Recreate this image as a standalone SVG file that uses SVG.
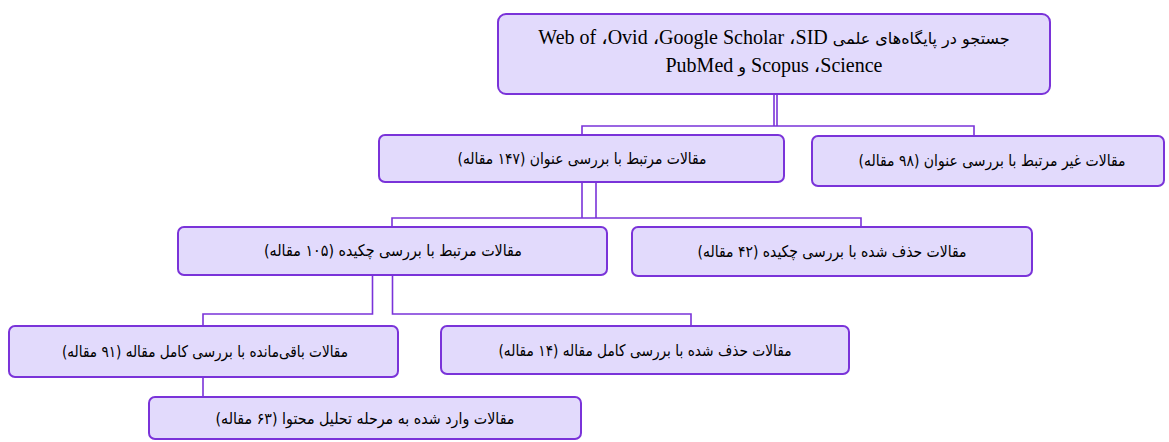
<svg xmlns="http://www.w3.org/2000/svg" width="1169" height="442" viewBox="0 0 1169 442">
<style>
.box{fill:#e2dafc;stroke:#7a33d9;stroke-width:2}
.fa{font-family:"DejaVu Sans","Noto Sans",sans-serif;font-size:16px;fill:#000;direction:rtl;text-anchor:middle}
.lat{font-family:"Liberation Serif","DejaVu Sans",serif;font-size:20px;fill:#000;direction:rtl;text-anchor:middle}
.fs{font-family:"DejaVu Sans","Noto Sans",sans-serif;font-size:16px}
.con{fill:none;stroke:#7a33d9;stroke-width:1.6}
</style>
<rect width="1169" height="442" fill="#ffffff"/>
<g id="connectors">
<path class="con" d="M774 94V126M777 94V126M582 135V126H974V136"/>
<path class="con" d="M582 182V218H596V182M392 227V218H861V227"/>
<path class="con" d="M372.5 276V314H203V326M392.5 276V314H691V326"/>
<path class="con" d="M203 377V397"/>
</g>
<g id="search">
<rect class="box" x="498" y="14" width="552" height="80" rx="8"/>
<text class="lat" x="774" y="44"><tspan class="fs">جستجو در پایگاه‌های علمی</tspan> SID،&#x200F; Google Scholar،&#x200F; Ovid،&#x200F;  Web of</text>
<text class="lat" x="774" y="72">Science،&#x200F; Scopus <tspan class="fs">و</tspan>  PubMed</text>
</g>
<g id="title-relevant">
<rect class="box" x="379" y="135" width="405" height="47" rx="6"/>
<text class="fa" x="582" y="164" textLength="249" lengthAdjust="spacingAndGlyphs">مقالات مرتبط با بررسی عنوان (۱۴۷ مقاله)</text>
</g>
<g id="title-irrelevant">
<rect class="box" x="812" y="136" width="352" height="50" rx="6"/>
<text class="fa" x="992" y="166" textLength="267" lengthAdjust="spacingAndGlyphs">مقالات غیر مرتبط با بررسی عنوان (۹۸ مقاله)</text>
</g>
<g id="abstract-relevant">
<rect class="box" x="178" y="227" width="429" height="48" rx="6"/>
<text class="fa" x="393" y="256" textLength="258" lengthAdjust="spacingAndGlyphs">مقالات مرتبط با  بررسی چکیده (۱۰۵ مقاله)</text>
</g>
<g id="abstract-removed">
<rect class="box" x="632" y="227" width="400" height="49" rx="6"/>
<text class="fa" x="832" y="257" textLength="269" lengthAdjust="spacingAndGlyphs">مقالات حذف شده با بررسی چکیده (۴۲ مقاله)</text>
</g>
<g id="fulltext-remaining">
<rect class="box" x="9" y="326" width="389" height="51" rx="6"/>
<text class="fa" x="205" y="357" textLength="286" lengthAdjust="spacingAndGlyphs">مقالات باقی‌مانده با بررسی کامل مقاله (۹۱ مقاله)</text>
</g>
<g id="fulltext-removed">
<rect class="box" x="441" y="326" width="408" height="48" rx="6"/>
<text class="fa" x="645" y="356" textLength="293" lengthAdjust="spacingAndGlyphs">مقالات حذف شده با بررسی کامل مقاله (۱۴ مقاله)</text>
</g>
<g id="content-analysis">
<rect class="box" x="149" y="397" width="432" height="42" rx="6"/>
<text class="fa" x="365" y="424" textLength="299" lengthAdjust="spacingAndGlyphs">مقالات وارد شده به مرحله تحلیل محتوا (۶۳ مقاله)</text>
</g>
</svg>
